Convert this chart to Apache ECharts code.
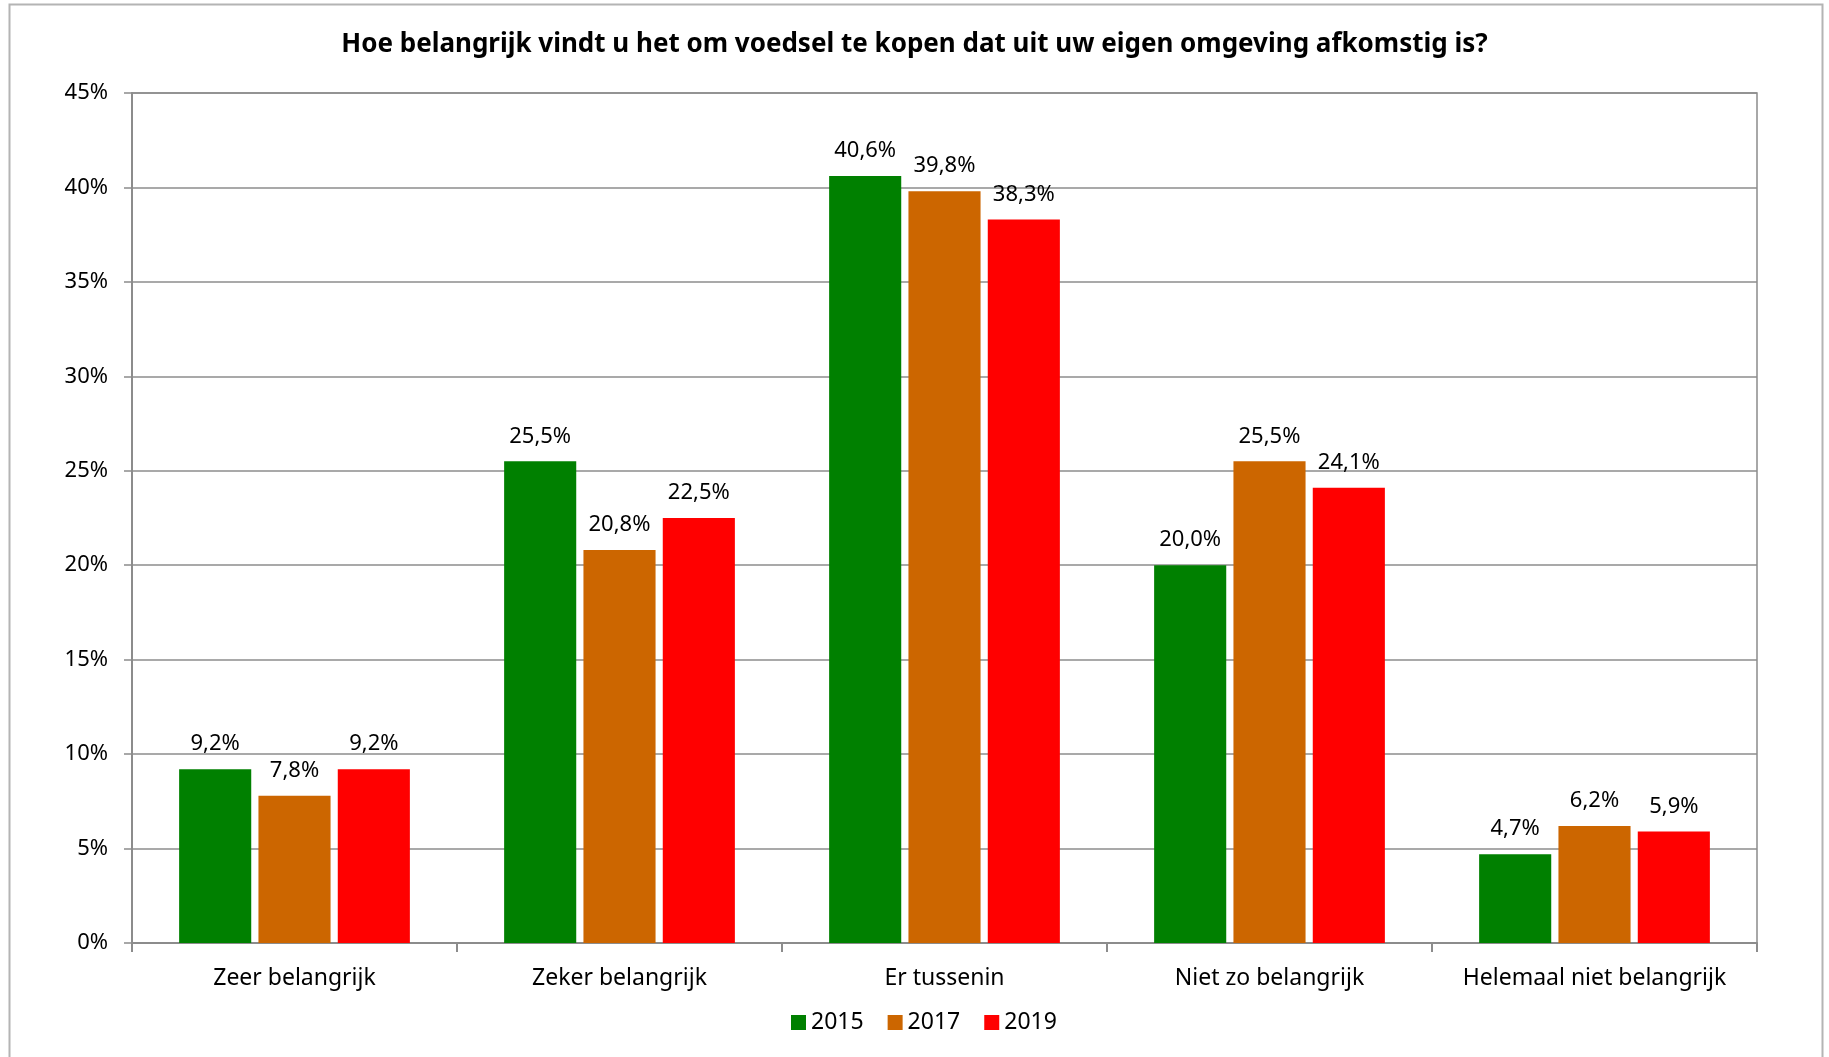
<!DOCTYPE html>
<html>
<head>
<meta charset="utf-8">
<script src="https://cdn.jsdelivr.net/npm/echarts@6/dist/echarts.min.js"></script>
<style>
  html, body { margin: 0; padding: 0; background: #fff; }
  #chart { width: 1829px; height: 1057px; }
</style>
</head>
<body>
<div id="chart"></div>
<script>
const categories = ['Zeer belangrijk', 'Zeker belangrijk', 'Er tussenin', 'Niet zo belangrijk', 'Helemaal niet belangrijk']
const years = ['2015', '2017', '2019']
const values2015 = [9.2, 25.5, 40.6, 20.0, 4.7]
const values2017 = [7.8, 20.8, 39.8, 25.5, 6.2]
const values2019 = [9.2, 22.5, 38.3, 24.1, 5.9]
const colors = ['#008000', '#CC6600', '#FF0000']

const FONT = '"Noto Sans", sans-serif'
const chart = echarts.init(document.getElementById('chart'), undefined, { renderer: 'canvas' })

function fmt(v) {
  return v.toFixed(1).replace('.', ',') + '%'
}

const seriesData = [values2015, values2017, values2019]

chart.setOption({
  backgroundColor: '#fff',
  animation: false,
  textStyle: { fontFamily: FONT },
  title: {
    text: 'Hoe belangrijk vindt u het om voedsel te kopen dat uit uw eigen omgeving afkomstig is?',
    left: 'center',
    top: 27,
    textStyle: { fontFamily: FONT, fontSize: 26, fontWeight: 'bold', color: '#000' },
  },
  graphic: [
    {
      type: 'rect',
      shape: { x: 9.5, y: 4.5, width: 1813, height: 1100 },
      style: { fill: 'none', stroke: '#b4b4b4', lineWidth: 2 },
      silent: true,
    },
  ],
  legend: {
    data: years,
    left: 786,
    top: 1006,
    itemWidth: 15,
    itemHeight: 15,
    itemGap: 24,
    icon: 'rect',
    textStyle: { fontFamily: FONT, fontSize: 23, color: '#000' },
  },
  grid: {
    left: 132,
    right: 72,
    top: 93,
    bottom: 114,
    show: true,
    borderColor: '#8c8c8c',
    borderWidth: 1.5,
    containLabel: false,
  },
  xAxis: {
    type: 'category',
    data: categories,
    axisLine: { lineStyle: { color: '#8c8c8c', width: 2 } },
    axisTick: { show: true, alignWithLabel: false, length: 9, lineStyle: { color: '#8c8c8c', width: 2 } },
    axisLabel: { color: '#000', fontSize: 23, fontFamily: FONT, margin: 24, interval: 0 },
  },
  yAxis: {
    type: 'value',
    min: 0,
    max: 45,
    interval: 5,
    axisLine: { show: true, lineStyle: { color: '#8c8c8c', width: 2 } },
    axisTick: { show: true, length: 8, lineStyle: { color: '#8c8c8c', width: 1.5 } },
    splitLine: { lineStyle: { color: '#8c8c8c', width: 1.5 } },
    axisLabel: { color: '#000', fontSize: 22, fontFamily: FONT, margin: 24, formatter: (v) => v + '%' },
  },
  series: years.map((y, i) => ({
    name: y,
    type: 'bar',
    data: seriesData[i],
    barGap: '10%',
    barCategoryGap: '29%',
    itemStyle: { color: colors[i] },
    label: {
      show: true,
      position: 'top',
      distance: 14,
      color: '#000',
      fontSize: 22,
      fontFamily: FONT,
      formatter: (p) => fmt(p.value),
    },
  })),
})
</script>
</body>
</html>
